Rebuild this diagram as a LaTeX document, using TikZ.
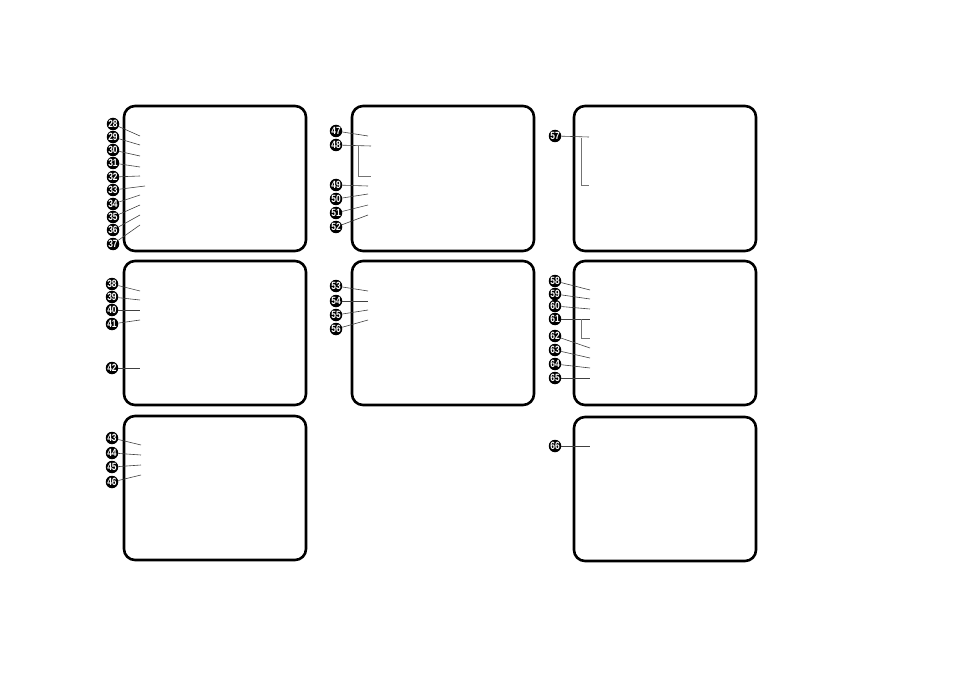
\documentclass[tikz,border=0pt]{standalone}
\usepackage{fontspec}
\setmainfont{Liberation Sans}
\begin{document}
\begin{tikzpicture}[x=1pt,y=-1pt,
  panel/.style={draw=black,line width=2.6pt,rounded corners=11pt},
  num/.style={circle,fill=black,text=white,inner sep=0pt,minimum size=12.5pt,
    font=\fontsize{10.5}{10.5}\selectfont\bfseries},
  lead/.style={draw=black!75,line width=0.6pt},
  brk/.style={draw=black!55,line width=0.7pt}]
\path[use as bounding box] (0,0) rectangle (954,674);
% panels
\draw[panel] (124,106) rectangle (306,251);
\draw[panel] (124,261) rectangle (306,405);
\draw[panel] (124,416) rectangle (306,560);
\draw[panel] (352,106) rectangle (534,251);
\draw[panel] (352,261) rectangle (534,405);
\draw[panel] (574,106) rectangle (756,251);
\draw[panel] (574,261) rectangle (756,405);
\draw[panel] (574,417) rectangle (756,561);
% callouts
\foreach \n/\x/\y/\ex/\ey in {
  28/113/124/140/136, 29/113/137/140/145, 30/113/150/140/156, 31/113/163/140/167,
  32/113/177/140/176, 33/113/190/145/186, 34/113/204/140/195, 35/113/217/140/205,
  36/113/230/140/215, 37/113/244/140/225,
  38/112/284/140/291, 39/112/297/140/300, 40/112/310/140/310, 41/112/324/140/320,
  42/112/368/140/368,
  43/112/438/141/445, 44/112/453/141/455, 45/112/467/141/465, 46/112/482/141/475,
  47/336/131/368/136, 48/336/145/371/146, 49/336/185/368/186, 50/336/199/368/194,
  51/336/213/368/205, 52/336/227/368/215,
  53/336/286/368/291, 54/336/301/368/301, 55/336/315/368/310, 56/336/329/368/320,
  57/555/136/589/137,
  58/555/281/590/290, 59/555/294/590/299, 60/555/306/590/309, 61/555/319/590/319,
  62/555/336/590/348, 63/555/350/590/358, 64/555/364/590/368, 65/555/378/590/378,
  66/555/446/590/446}{
  \node[num] (n\n) at (\x,\y) {\scalebox{0.8}[1]{\n}};
  \coordinate (e\n) at (\ex,\ey);
  \draw[lead] (n\n) -- (e\n);
}
% brackets
\coordinate (b48a) at (358,146); \coordinate (b48b) at (371,176);
\draw[brk] (b48a) |- (b48b);
\coordinate (b57a) at (581,138); \coordinate (b57b) at (589,185);
\draw[brk] (b57a) |- (b57b);
\coordinate (b61a) at (581,319); \coordinate (b61b) at (590,338);
\draw[brk] (b61a) |- (b61b);
\end{tikzpicture}
\end{document}
